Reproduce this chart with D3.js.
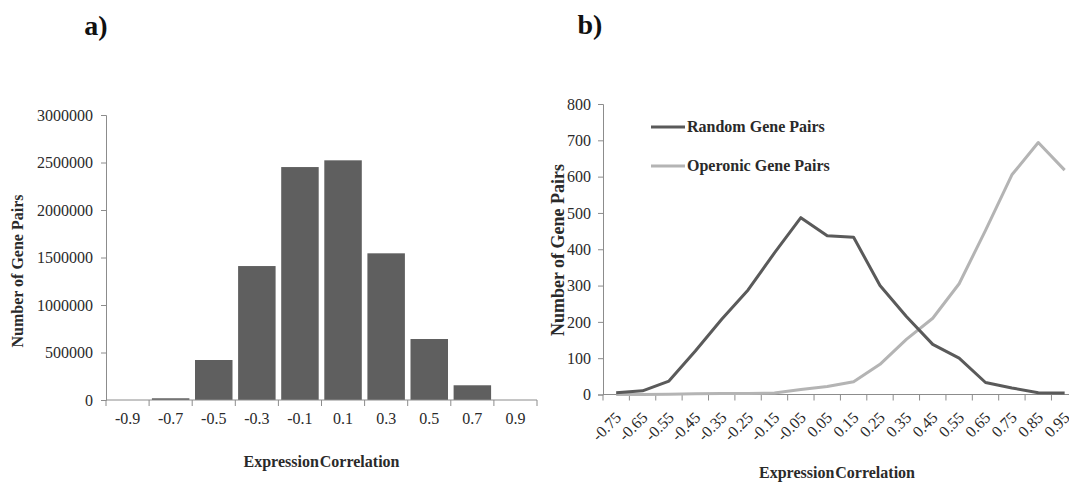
<!DOCTYPE html>
<html>
<head>
<meta charset="utf-8">
<script src="https://cdn.jsdelivr.net/npm/d3@7"></script>
<style>
  html, body { margin: 0; padding: 0; background: #fff; }
  svg { display: block; }
  svg text { font-family: "Liberation Serif", "Times New Roman", serif; }
</style>
</head>
<body>
<svg id="fig" width="1069" height="482"></svg>
<script>
// Panel a: histogram of expression correlation over all gene pairs
const histBins = ["-0.9", "-0.7", "-0.5", "-0.3", "-0.1", "0.1", "0.3", "0.5", "0.7", "0.9"];
const histCounts = [0, 18000, 421000, 1410000, 2452000, 2523000, 1544000, 642000, 155000, 0];
const histTicks = [0, 500000, 1000000, 1500000, 2000000, 2500000, 3000000];

// Panel b: distributions for random vs operonic gene pairs
const corrBins = ["-0.75", "-0.65", "-0.55", "-0.45", "-0.35", "-0.25", "-0.15", "-0.05", "0.05",
                  "0.15", "0.25", "0.35", "0.45", "0.55", "0.65", "0.75", "0.85", "0.95"];
const randomPairs = [5, 10, 37, 120, 207, 288, 390, 487, 437, 433, 300, 215, 138, 100, 33, 18, 5, 4];
const operonicPairs = [0, 0, 1, 2, 3, 3, 4, 14, 22, 35, 83, 152, 210, 305, 452, 605, 694, 618];
const countTicks = [0, 100, 200, 300, 400, 500, 600, 700, 800];
const seriesNames = ["Random Gene Pairs", "Operonic Gene Pairs"];

const svg = d3.select("#fig");
const axisColor = "#8c8c8c";
const textColor = "#2a2a2a";
const serif = "'Liberation Serif', 'Times New Roman', serif";

// ---------- panel a ----------
{
  const left = 106, right = 537, top = 115, bottom = 400;
  const x = d3.scaleBand().domain(histBins).range([left, right])
    .paddingInner(0.13).paddingOuter(0.065);
  const y = d3.scaleLinear().domain([0, 3000000]).range([bottom, top]);
  const g = svg.append("g");

  g.selectAll("rect.bar").data(histBins).join("rect")
    .attr("class", "bar")
    .attr("x", d => x(d))
    .attr("width", x.bandwidth())
    .attr("y", (d, i) => y(histCounts[i]))
    .attr("height", (d, i) => y(0) - y(histCounts[i]))
    .attr("fill", "#5f5f5f");

  // y axis
  const yAxis = g.append("g").attr("transform", `translate(${left},0)`)
    .call(d3.axisLeft(y).tickValues(histTicks).tickSize(5).tickPadding(8).tickFormat(d3.format("d")));
  yAxis.attr("font-family", null).attr("font-size", null);
  yAxis.select(".domain").attr("stroke", axisColor);
  yAxis.selectAll(".tick line").attr("stroke", axisColor);
  yAxis.selectAll(".tick text").style("font-family", serif).style("font-size", "16px")
    .attr("fill", textColor);

  // x axis: line with ticks at bin boundaries, labels at bin centres
  g.append("line").attr("x1", left).attr("x2", right).attr("y1", bottom).attr("y2", bottom)
    .attr("stroke", axisColor);
  const bounds = d3.range(histBins.length + 1).map(i => left + i * x.step());
  g.selectAll("line.xt").data(bounds).join("line").attr("class", "xt")
    .attr("x1", d => d).attr("x2", d => d).attr("y1", bottom).attr("y2", bottom + 6)
    .attr("stroke", axisColor);
  g.selectAll("text.xl").data(histBins).join("text").attr("class", "xl")
    .attr("x", d => x(d) + x.bandwidth() / 2).attr("y", 424)
    .attr("text-anchor", "middle").style("font-size", "16px").attr("fill", textColor)
    .text(d => d);

  g.append("text").attr("x", (left + right) / 2).attr("y", 467)
    .attr("text-anchor", "middle").style("font-size", "16px").attr("font-weight", "bold")
    .attr("word-spacing", -3).attr("fill", textColor).text("Expression Correlation");
  g.append("text").attr("transform", "translate(23,271) rotate(-90)")
    .attr("text-anchor", "middle").style("font-size", "16px").attr("font-weight", "bold")
    .attr("fill", textColor).text("Number of Gene Pairs");
  g.append("text").attr("x", 96).attr("y", 35).attr("text-anchor", "middle")
    .style("font-size", "28px").attr("font-weight", "bold").attr("fill", "#111").text("a)");
}

// ---------- panel b ----------
{
  const left = 603, top = 104, bottom = 394.5;
  const step = 26.38;
  const right = left + step * corrBins.length;
  const x = d3.scaleBand().domain(corrBins).range([left, right]);
  const cx = d => x(d) + x.bandwidth() / 2;
  const y = d3.scaleLinear().domain([0, 800]).range([bottom, top]);
  const g = svg.append("g");

  const yAxis = g.append("g").attr("transform", `translate(${left},0)`)
    .call(d3.axisLeft(y).tickValues(countTicks).tickSize(5).tickPadding(7));
  yAxis.attr("font-family", null).attr("font-size", null);
  yAxis.select(".domain").attr("stroke", axisColor);
  yAxis.selectAll(".tick line").attr("stroke", axisColor);
  yAxis.selectAll(".tick text").style("font-family", serif).style("font-size", "16px")
    .attr("fill", textColor);

  g.append("line").attr("x1", left).attr("x2", right).attr("y1", bottom).attr("y2", bottom)
    .attr("stroke", axisColor);
  const bounds = d3.range(corrBins.length + 1).map(i => left + i * x.step());
  g.selectAll("line.xt").data(bounds).join("line").attr("class", "xt")
    .attr("x1", d => d).attr("x2", d => d).attr("y1", bottom).attr("y2", bottom + 6)
    .attr("stroke", axisColor);
  g.selectAll("text.xl").data(corrBins).join("text").attr("class", "xl")
    .attr("transform", d => `translate(${cx(d) + 6},${bottom + 24}) rotate(-45)`)
    .attr("text-anchor", "end").style("font-size", "16px").attr("fill", textColor)
    .text(d => d);

  const line = d3.line().x((d, i) => cx(corrBins[i])).y(d => y(d));
  const colors = ["#5a5a5a", "#b4b4b4"];
  g.append("path").datum(operonicPairs).attr("d", line).attr("fill", "none")
    .attr("stroke", colors[1]).attr("stroke-width", 3).attr("stroke-linejoin", "round");
  g.append("path").datum(randomPairs).attr("d", line).attr("fill", "none")
    .attr("stroke", colors[0]).attr("stroke-width", 3).attr("stroke-linejoin", "round");

  // legend
  seriesNames.forEach((name, i) => {
    const ly = 127 + i * 39;
    g.append("line").attr("x1", 651).attr("x2", 685).attr("y1", ly).attr("y2", ly)
      .attr("stroke", colors[i]).attr("stroke-width", 3);
    g.append("text").attr("x", 687).attr("y", ly + 5).style("font-size", "16px")
      .attr("font-weight", "bold").attr("fill", textColor).text(name);
  });

  g.append("text").attr("x", 837).attr("y", 478)
    .attr("text-anchor", "middle").style("font-size", "16px").attr("font-weight", "bold")
    .attr("word-spacing", -3).attr("fill", textColor).text("Expression Correlation");
  g.append("text").attr("transform", "translate(564,250) rotate(-90)")
    .attr("text-anchor", "middle").style("font-size", "18px").attr("font-weight", "bold")
    .attr("fill", textColor).text("Number of Gene Pairs");
  g.append("text").attr("x", 590).attr("y", 34).attr("text-anchor", "middle")
    .style("font-size", "28px").attr("font-weight", "bold").attr("fill", "#111").text("b)");
}
</script>
</body>
</html>
